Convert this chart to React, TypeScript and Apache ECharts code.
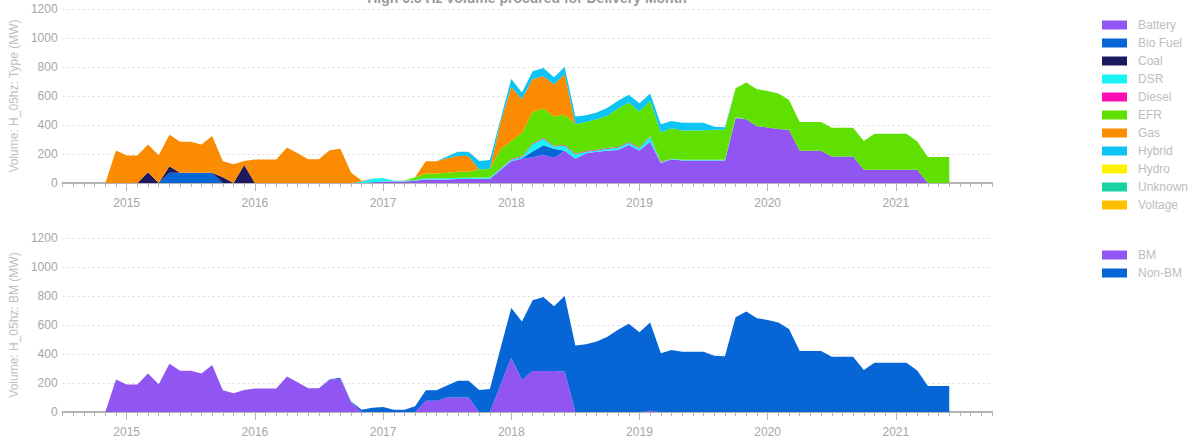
import React, { useEffect, useRef } from 'react';
import * as echarts from 'echarts';

// Axis range (monthly categories) and first month that carries data
const AXIS_FIRST = { year: 2014, month: 7 };
const AXIS_LAST = { year: 2021, month: 10 };
const DATA_FIRST = '2014-11';

const TITLE = 'High 0.5 Hz volume procured for Delivery Month';
const TOP_AXIS_NAME = 'Volume: H_05hz: Type (MW)';
const BOTTOM_AXIS_NAME = 'Volume: H_05hz: BM (MW)';

// Monthly volumes (MW), Nov 2014 .. Jun 2021
// prettier-ignore
const battery = [
  0, 0,
  0, 0, 0, 0, 0, 0, 0, 0, 0, 0, 0, 0,
  0, 0, 0, 0, 0, 0, 0, 0, 0, 0, 0, 5,
  10, 10, 10, 15, 25, 25, 25, 28, 28, 30, 30, 90,
  150, 165, 178, 195, 172, 222, 167, 205, 215, 222, 228, 262,
  225, 285, 137, 163, 155, 155, 155, 155, 155, 448, 440, 392,
  382, 373, 368, 222, 222, 222, 183, 183, 183, 91, 91, 91,
  91, 91, 91, 0, 0, 0,
];
// prettier-ignore
const bioFuel = [
  0, 0,
  0, 0, 0, 0, 70, 70, 70, 70, 70, 0, 0, 0,
  0, 0, 0, 0, 0, 0, 0, 0, 0, 0, 0, 0,
  0, 0, 0, 0, 0, 0, 0, 0, 0, 0, 0, 0,
  0, 5, 40, 65, 65, 0, 0, 0, 0, 0, 0, 0,
  0, 0, 0, 0, 0, 0, 0, 0, 0, 0, 0, 0,
  0, 0, 0, 0, 0, 0, 0, 0, 0, 0, 0, 0,
  0, 0, 0, 0, 0, 0,
];
// prettier-ignore
const coal = [
  0, 0,
  0, 0, 75, 0, 45, 0, 0, 0, 0, 40, 0, 125,
  0, 0, 0, 0, 0, 0, 0, 0, 0, 0, 0, 0,
  0, 0, 0, 0, 0, 0, 0, 0, 0, 0, 0, 0,
  0, 0, 0, 0, 0, 0, 0, 0, 0, 0, 0, 0,
  0, 0, 0, 0, 0, 0, 0, 0, 0, 0, 0, 0,
  0, 0, 0, 0, 0, 0, 0, 0, 0, 0, 0, 0,
  0, 0, 0, 0, 0, 0,
];
// prettier-ignore
const dsr = [
  0, 0,
  0, 0, 0, 0, 0, 0, 0, 0, 0, 0, 0, 0,
  0, 0, 0, 0, 0, 0, 0, 0, 0, 0, 10, 25,
  25, 5, 3, 5, 8, 8, 8, 8, 8, 8, 8, 8,
  10, 10, 50, 45, 15, 35, 30, 10, 10, 15, 15, 15,
  15, 35, 5, 5, 5, 5, 5, 5, 5, 5, 0, 0,
  0, 0, 0, 0, 0, 0, 0, 0, 0, 0, 0, 0,
  0, 0, 0, 0, 0, 0,
];
// prettier-ignore
const diesel = [
  0, 0,
  0, 0, 0, 0, 0, 0, 0, 0, 0, 0, 0, 0,
  0, 0, 0, 0, 0, 0, 0, 0, 0, 0, 0, 0,
  0, 0, 0, 0, 0, 0, 0, 0, 0, 0, 0, 3,
  5, 5, 5, 5, 5, 5, 5, 5, 5, 5, 5, 5,
  4, 4, 4, 0, 0, 0, 0, 0, 0, 0, 0, 0,
  0, 0, 0, 0, 0, 0, 0, 0, 0, 0, 0, 0,
  0, 0, 0, 0, 0, 0,
];
// prettier-ignore
const efr = [
  0, 0,
  0, 0, 0, 0, 0, 0, 0, 0, 0, 0, 0, 0,
  0, 0, 0, 0, 0, 0, 0, 0, 0, 0, 0, 0,
  0, 0, 2, 20, 32, 32, 37, 42, 42, 55, 60, 130,
  125, 160, 217, 204, 201, 208, 203, 200, 210, 221, 266, 274,
  249, 242, 204, 209, 202, 202, 202, 208, 208, 200, 253, 255,
  253, 245, 204, 198, 198, 198, 198, 198, 198, 199, 249, 249,
  249, 249, 195, 179, 179, 179,
];
// prettier-ignore
const gas = [
  0, 225,
  190, 190, 190, 192, 218, 215, 215, 195, 255, 110, 130, 27,
  162, 162, 162, 245, 205, 163, 163, 226, 236, 72, 5, 0,
  0, 0, 0, 0, 85, 85, 100, 108, 108, 0, 0, 190,
  372, 234, 228, 223, 221, 281, 0, 0, 0, 0, 0, 0,
  0, 0, 0, 0, 0, 0, 0, 0, 0, 0, 0, 0,
  0, 0, 0, 0, 0, 0, 0, 0, 0, 0, 0, 0,
  0, 0, 0, 0, 0, 0,
];
// prettier-ignore
const hybrid = [
  0, 0,
  0, 0, 0, 0, 0, 0, 0, 0, 0, 0, 0, 0,
  0, 0, 0, 0, 0, 0, 0, 0, 0, 0, 0, 0,
  0, 0, 0, 0, 0, 0, 12, 30, 30, 58, 60, 20,
  55, 46, 52, 56, 51, 49, 53, 47, 46, 56, 53, 53,
  57, 52, 55, 51, 53, 53, 53, 20, 17, 0, 0, 0,
  0, 0, 0, 0, 0, 0, 0, 0, 0, 0, 0, 0,
  0, 0, 0, 0, 0, 0,
];
// prettier-ignore
const hydro = [
  0, 0,
  0, 0, 0, 0, 0, 0, 0, 0, 0, 0, 0, 0,
  0, 0, 0, 0, 0, 0, 0, 0, 0, 0, 0, 0,
  0, 0, 0, 0, 0, 0, 0, 0, 0, 0, 0, 0,
  0, 0, 0, 0, 0, 0, 0, 0, 0, 0, 0, 0,
  0, 0, 0, 0, 0, 0, 0, 0, 0, 0, 0, 0,
  0, 0, 0, 0, 0, 0, 0, 0, 0, 0, 0, 0,
  0, 0, 0, 0, 0, 0,
];
const unknown = hydro.slice();
const voltage = hydro.slice();

// prettier-ignore
const bm = [
  0, 225,
  190, 190, 265, 192, 333, 285, 285, 265, 325, 150, 130, 152,
  162, 162, 162, 245, 205, 163, 163, 222, 230, 68, 0, 0,
  0, 0, 0, 0, 78, 78, 100, 100, 100, 0, 0, 188,
  375, 220, 282, 282, 282, 278, 0, 0, 0, 0, 0, 0,
  0, 8, 0, 0, 0, 0, 0, 0, 0, 0, 0, 0,
  0, 0, 0, 0, 0, 0, 0, 0, 0, 0, 0, 0,
  0, 0, 0, 0, 0, 0,
];
// prettier-ignore
const nonBm = [
  0, 0,
  0, 0, 0, 0, 0, 0, 0, 0, 0, 0, 0, 0,
  0, 0, 0, 0, 0, 0, 0, 4, 6, 4, 15, 30,
  35, 15, 15, 40, 72, 72, 82, 116, 116, 151, 158, 253,
  342, 405, 488, 511, 448, 522, 458, 467, 486, 519, 567, 609,
  550, 610, 405, 428, 415, 415, 415, 388, 385, 653, 693, 647,
  635, 618, 572, 420, 420, 420, 381, 381, 381, 290, 340, 340,
  340, 340, 286, 179, 179, 179,
];

const typeSeries = [
  { name: 'Battery', color: '#9155f1', values: battery },
  { name: 'Bio Fuel', color: '#0766d6', values: bioFuel },
  { name: 'Coal', color: '#1d195e', values: coal },
  { name: 'DSR', color: '#18f4f4', values: dsr },
  { name: 'Diesel', color: '#fb0cb4', values: diesel },
  { name: 'EFR', color: '#5fe000', values: efr },
  { name: 'Gas', color: '#fb8b00', values: gas },
  { name: 'Hybrid', color: '#0dc4f4', values: hybrid },
  { name: 'Hydro', color: '#fff200', values: hydro },
  { name: 'Unknown', color: '#19d3a4', values: unknown },
  { name: 'Voltage', color: '#ffc000', values: voltage },
];

const bmSeries = [
  { name: 'BM', color: '#9155f1', values: bm },
  { name: 'Non-BM', color: '#0766d6', values: nonBm },
];

function buildMonths(): string[] {
  const out: string[] = [];
  let y = AXIS_FIRST.year;
  let m = AXIS_FIRST.month;
  while (y < AXIS_LAST.year || (y === AXIS_LAST.year && m <= AXIS_LAST.month)) {
    out.push(`${y}-${String(m).padStart(2, '0')}`);
    m += 1;
    if (m > 12) {
      m = 1;
      y += 1;
    }
  }
  return out;
}

const FONT = '"Liberation Sans", Arial, Helvetica, sans-serif';

export default function App() {
  const ref = useRef<HTMLDivElement>(null);

  useEffect(() => {
    if (!ref.current) return;
    const chart = echarts.init(ref.current, undefined, { renderer: 'svg' });

    const months = buildMonths();
    const lead = months.indexOf(DATA_FIRST);
    const pad = (vals: number[]) => [...new Array(lead).fill(null), ...vals];
    const isJan = (_i: number, v: string) => v.endsWith('-01');

    const grids = [
      { left: 62, right: 203, top: 9, height: 174 },
      { left: 62, right: 203, top: 238, height: 174 },
    ];

    const minorAxis = (gridIndex: number) => ({
      type: 'category',
      gridIndex,
      data: months,
      boundaryGap: false,
      position: 'bottom',
      axisLine: { show: true, lineStyle: { color: '#b4b4b4', width: 2 } },
      axisTick: { show: true, interval: 0, length: 4, lineStyle: { color: '#b4b4b4', width: 1 } },
      axisLabel: { show: false },
      splitLine: { show: false },
    });
    const yearAxis = (gridIndex: number) => ({
      type: 'category',
      gridIndex,
      data: months,
      boundaryGap: false,
      position: 'bottom',
      axisLine: { show: false },
      axisTick: { show: true, interval: isJan, length: 8, lineStyle: { color: '#b4b4b4', width: 1 } },
      axisLabel: {
        show: true,
        interval: isJan,
        formatter: (v: string) => v.slice(0, 4),
        color: '#a6a6a6',
        fontSize: 12,
        fontFamily: FONT,
        margin: 14,
      },
      splitLine: { show: false },
    });

    const yAxis = (gridIndex: number, name: string) => ({
      type: 'value',
      gridIndex,
      min: 0,
      max: 1200,
      interval: 200,
      name,
      nameLocation: 'middle',
      nameGap: 38,
      nameTextStyle: { color: '#c0c0c0', fontSize: 12, fontFamily: FONT },
      axisLine: { show: false },
      axisTick: { show: false },
      axisLabel: {
        color: '#a6a6a6',
        fontSize: 12,
        fontFamily: FONT,
        margin: 5,
        formatter: (v: number) => String(v),
      },
      splitLine: { show: true, lineStyle: { color: '#dcdcdc', width: 1, type: [2, 3] } },
    });

    const areaSeries = (
      s: { name: string; color: string; values: number[] },
      stack: string,
      xAxisIndex: number,
      yAxisIndex: number
    ) => ({
      name: s.name,
      type: 'line',
      stack,
      xAxisIndex,
      yAxisIndex,
      data: pad(s.values),
      color: s.color,
      symbol: 'none',
      showSymbol: false,
      lineStyle: { width: 0, color: s.color },
      itemStyle: { color: s.color },
      areaStyle: { color: s.color, opacity: 1 },
      emphasis: { disabled: true },
      silent: true,
    });

    const legendBase = {
      orient: 'vertical',
      left: 1097,
      itemWidth: 25,
      itemHeight: 9,
      itemGap: 6,
      icon: 'rect',
      selectedMode: false,
      textStyle: { color: '#bdbdbd', fontSize: 12, fontFamily: FONT, padding: [0, 0, 0, 6] },
    };

    chart.setOption({
      animation: false,
      textStyle: { fontFamily: FONT },
      grid: grids,
      xAxis: [minorAxis(0), yearAxis(0), minorAxis(1), yearAxis(1)],
      yAxis: [yAxis(0, TOP_AXIS_NAME), yAxis(1, BOTTOM_AXIS_NAME)],
      legend: [
        { ...legendBase, top: 14, data: typeSeries.map((s) => s.name) },
        { ...legendBase, top: 244, data: bmSeries.map((s) => s.name) },
      ],
      graphic: [
        {
          type: 'text',
          x: 527,
          y: -9,
          style: {
            text: TITLE,
            fill: '#9a9a9a',
            font: `bold 14px ${FONT}`,
            textAlign: 'center',
            textVerticalAlign: 'top',
          },
        },
      ],
      series: [
        ...typeSeries.map((s) => areaSeries(s, 'type', 0, 0)),
        ...bmSeries.map((s) => areaSeries(s, 'bm', 2, 1)),
      ],
    });

    return () => chart.dispose();
  }, []);

  return (
    <div
      ref={ref}
      style={{ position: 'fixed', left: 0, top: 0, width: 1195, height: 447, background: '#fff' }}
    />
  );
}
